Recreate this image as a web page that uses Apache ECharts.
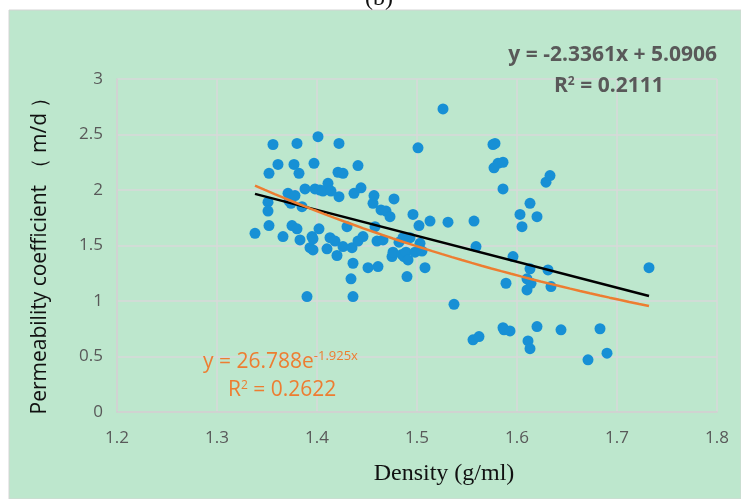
<!DOCTYPE html>
<html>
<head>
<meta charset="utf-8">
<script src="https://cdn.jsdelivr.net/npm/echarts@6/dist/echarts.min.js"></script>
<style>
  html, body { margin: 0; padding: 0; background: #ffffff; }
  #chart { width: 741px; height: 499px; }
</style>
</head>
<body>
<div id="chart"></div>
<script>
// Density (g/ml) and permeability coefficient (m/d) of each sample
const density = [
  1.338,1.351,1.351,1.352,1.352,1.356,1.361,1.366,1.371,1.372,1.374,1.375,1.377,1.378,1.380,1.380,
  1.382,1.383,1.385,1.388,1.390,1.393,1.395,1.396,1.396,1.397,1.398,1.401,1.402,1.403,1.406,1.410,
  1.411,1.413,1.414,1.418,1.420,1.421,1.422,1.422,1.426,1.426,1.430,1.435,1.434,1.436,1.436,1.437,
  1.441,1.441,1.444,1.446,
  1.451,1.456,1.457,1.458,1.460,1.461,1.464,1.466,1.469,1.473,1.475,1.476,1.477,1.482,1.485,1.486,
  1.487,1.489,1.490,1.491,1.493,1.496,1.498,1.501,1.502,1.503,1.505,1.508,1.513,1.526,1.531,1.537,
  1.556,1.557,1.559,1.562,1.576,1.578,1.577,1.581,1.586,1.586,1.586,1.587,1.589,1.593,1.596,1.603,
  1.605,1.610,1.610,1.611,1.613,1.613,1.613,1.614,1.620,1.620,1.629,1.631,1.633,1.634,1.644,1.671,
  1.683,1.690,1.732
];
const permeability = [
  1.61,1.89,1.81,1.68,2.15,2.41,2.23,1.58,1.97,1.90,1.88,1.68,2.23,1.95,2.42,1.65,
  2.15,1.55,1.85,2.01,1.04,1.48,1.58,1.56,1.46,2.24,2.01,2.48,1.65,2.00,1.99,1.47,
  2.06,1.57,1.99,1.54,1.41,2.16,1.94,2.42,2.15,1.49,1.67,1.48,1.20,1.04,1.34,1.97,
  2.22,1.54,2.02,1.58,
  1.30,1.88,1.95,1.67,1.54,1.31,1.82,1.55,1.81,1.76,1.40,1.44,1.92,1.53,1.42,1.57,
  1.40,1.44,1.22,1.37,1.57,1.78,1.44,2.38,1.68,1.52,1.45,1.30,1.72,2.73,1.71,0.97,
  0.65,1.72,1.49,0.68,2.41,2.42,2.20,2.24,2.25,2.01,0.76,0.74,1.16,0.73,1.40,1.78,
  1.67,1.10,1.20,0.64,1.88,0.57,1.29,1.16,1.76,0.77,2.07,1.28,2.13,1.13,0.74,0.47,
  0.75,0.53,1.30
];

// Trendline coefficients
const linSlope = -2.3361, linIntercept = 5.0906;
const expCoef = 26.788, expRate = -1.925;
const fitRange = [1.338, 1.732];

// Axis ticks
const xTicks = [1.2, 1.3, 1.4, 1.5, 1.6, 1.7, 1.8];
const yTicks = [0, 0.5, 1, 1.5, 2, 2.5, 3];

const points = density.map((d, i) => [d, permeability[i]]);
const linLine = fitRange.map(x => [x, linSlope * x + linIntercept]);
const expLine = [];
for (let k = 0; k <= 40; k++) {
  const x = fitRange[0] + (fitRange[1] - fitRange[0]) * k / 40;
  expLine.push([x, expCoef * Math.exp(expRate * x)]);
}

const chart = echarts.init(document.getElementById('chart'), null, { renderer: 'canvas' });
const tickFont = "'Open Sans', sans-serif";

chart.setOption({
  backgroundColor: '#ffffff',
  animation: false,
  graphic: [
    { type: 'rect', z: -10, shape: { x: 9, y: 10, width: 732, height: 489 },
      style: { fill: '#bde7cd', stroke: '#d4d4d4', lineWidth: 1 } },
    { type: 'text', left: 365, top: -13, z: 10,
      style: { text: '(b)', font: "24px 'Liberation Serif', serif", fill: '#111' } },
    { type: 'text', right: 24, top: 45, z: 10,
      style: { text: 'y = -2.3361x + 5.0906', font: "bold 21px " + tickFont, fill: '#595959' } },
    { type: 'text', left: 554, top: 76, z: 10,
      style: { text: '{a|R}{s|2}{a| = 0.2111}', fill: '#595959',
        rich: { a: { font: "bold 21px " + tickFont, fill: '#595959' },
                s: { font: "bold 12px " + tickFont, fill: '#595959', verticalAlign: 'top', padding: [0, 0, 9, 0] } } } },
    { type: 'text', left: 203, top: 350, z: 10,
      style: { text: '{a|y = 26.788e}{s|-1.925x}', fill: '#ED7D31',
        rich: { a: { font: "21px " + tickFont, fill: '#ED7D31' },
                s: { font: "13px " + tickFont, fill: '#ED7D31', verticalAlign: 'top', padding: [0, 0, 11, 0] } } } },
    { type: 'text', left: 228, top: 380, z: 10,
      style: { text: '{a|R}{s|2}{a| = 0.2622}', fill: '#ED7D31',
        rich: { a: { font: "21px " + tickFont, fill: '#ED7D31' },
                s: { font: "12px " + tickFont, fill: '#ED7D31', verticalAlign: 'top', padding: [0, 0, 9, 0] } } } }
  ],
  grid: { left: 117, top: 79, width: 600, height: 333, containLabel: false },
  xAxis: {
    type: 'value', min: 1.2, max: 1.8, interval: 0.1,
    name: 'Density (g/ml)', nameLocation: 'middle', nameGap: 50,
    nameTextStyle: { fontFamily: "'Liberation Serif', serif", fontSize: 24, color: '#111', padding: [0, 0, 0, 54] },
    axisLine: { show: true, lineStyle: { color: '#d0d0d0', width: 1.5 } },
    axisTick: { show: false },
    axisLabel: { margin: 18, fontFamily: tickFont, fontSize: 17, color: '#595959',
      formatter: v => { const t = xTicks.find(q => Math.abs(q - v) < 1e-6); return t === undefined ? '' : t.toFixed(1); } },
    splitLine: { show: true, lineStyle: { color: '#d9d9d9', width: 1.5 } }
  },
  yAxis: {
    type: 'value', min: 0, max: 3, interval: 0.5,
    name: 'Permeability coefficient （ m/d ）', nameLocation: 'middle', nameGap: 66, nameRotate: 90,
    nameTextStyle: { fontFamily: "'Open Sans', 'DejaVu Sans', sans-serif", fontSize: 21, color: '#111', padding: [0, 10, 0, 0] },
    axisLine: { show: true, lineStyle: { color: '#d0d0d0', width: 1.5 } },
    axisTick: { show: false },
    axisLabel: { margin: 14, fontFamily: tickFont, fontSize: 17, color: '#595959',
      formatter: v => { const t = yTicks.find(q => Math.abs(q - v) < 1e-6); return t === undefined ? '' : String(t); } },
    splitLine: { show: true, lineStyle: { color: '#d9d9d9', width: 1.5 } }
  },
  series: [
    { type: 'scatter', data: points, symbolSize: 11, itemStyle: { color: '#1790d5', opacity: 1 }, z: 2 },
    { type: 'line', data: linLine, showSymbol: false, lineStyle: { color: '#000000', width: 2.5 }, z: 3 },
    { type: 'line', data: expLine, showSymbol: false, smooth: false, lineStyle: { color: '#ED7D31', width: 2.5 }, z: 3 }
  ]
});
</script>
</body>
</html>
